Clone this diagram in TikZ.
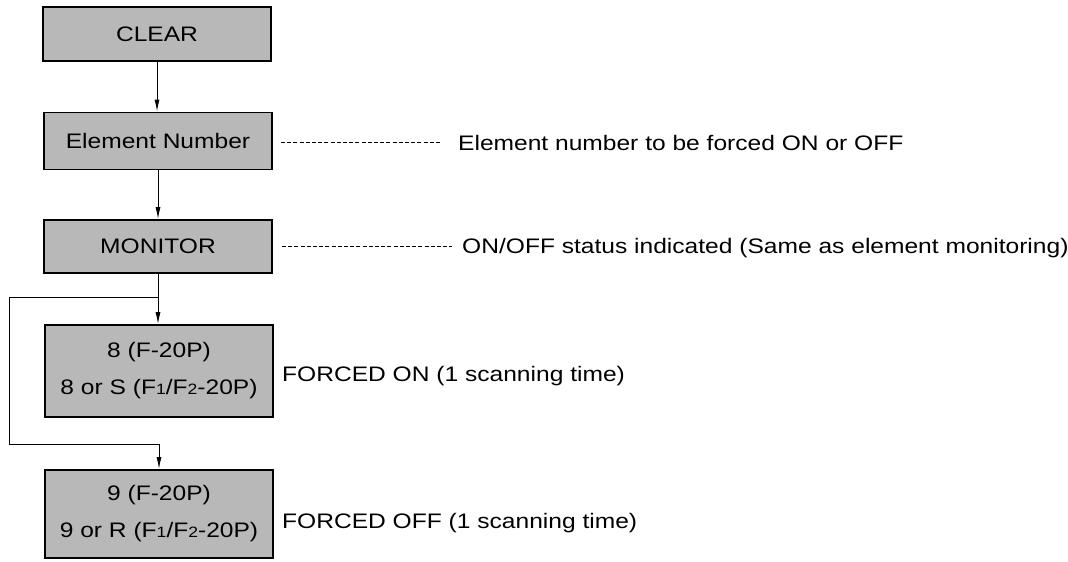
\documentclass[tikz,border=0pt]{standalone}
\usepackage{fontspec}
\setmainfont[FakeStretch=1.17]{Liberation Sans}
\usetikzlibrary{arrows.meta}
\definecolor{boxgray}{RGB}{184,184,184}
\newcommand{\sm}[1]{{\fontsize{15}{15}\selectfont #1}}
\tikzset{
  box/.style={draw=black, line width=1.8pt, fill=boxgray, minimum width=228pt, inner sep=0pt, align=center, font=\fontsize{21}{37}\selectfont},
  conn/.style={line width=1pt, -{Latex[length=12pt,width=5pt]}},
  note/.style={anchor=base west, inner sep=0pt, font=\fontsize{21}{24}\selectfont},
  dashline/.style={line width=0.9pt, dash pattern=on 4pt off 2.2pt}
}
\begin{document}
\begin{tikzpicture}[x=1pt,y=-1pt]
\useasboundingbox (0,0) rectangle (1068,562);
\node[box, minimum height=54pt] (clear) at (157,34) {CLEAR};
\node[box, minimum height=57pt] (elem) at (158,141) {Element Number};
\node[box, minimum height=53pt] (mon) at (158,246.5) {MONITOR};
\node[box, minimum height=92pt] (f8) at (159,371) {8 (F-20P)\\8 or S (F\sm{1}/F\sm{2}-20P)};
\node[box, minimum height=88pt] (f9) at (159,514) {9 (F-20P)\\9 or R (F\sm{1}/F\sm{2}-20P)};

\draw[conn] (clear.south) -- (clear.south |- elem.north);
\draw[conn] (elem.south) -- (elem.south |- mon.north);
\draw[conn] (mon.south) -- (mon.south |- f8.north);
\coordinate (split) at (158,297);
\coordinate (lx) at (9,297);
\coordinate (ly) at (9,444);
\draw[conn] (split) -- (lx) -- (ly) -- (ly -| f9.north) -- (f9.north);

\node[note] (t1) at (458,150) {Element number to be forced ON or OFF};
\node[note] (t2) at (462,253) {ON/OFF status indicated (Same as element monitoring)};
\node[note] (t3) at (282,381.5) {FORCED ON (1 scanning time)};
\node[note] (t4) at (282,528) {FORCED OFF (1 scanning time)};
\coordinate (d1) at (281,142.7);
\coordinate (d1e) at (441,142.7);
\coordinate (d2) at (282,246.7);
\coordinate (d2e) at (452,246.7);
\draw[dashline] (d1) -- (d1e);
\draw[dashline] (d2) -- (d2e);
\end{tikzpicture}
\end{document}
